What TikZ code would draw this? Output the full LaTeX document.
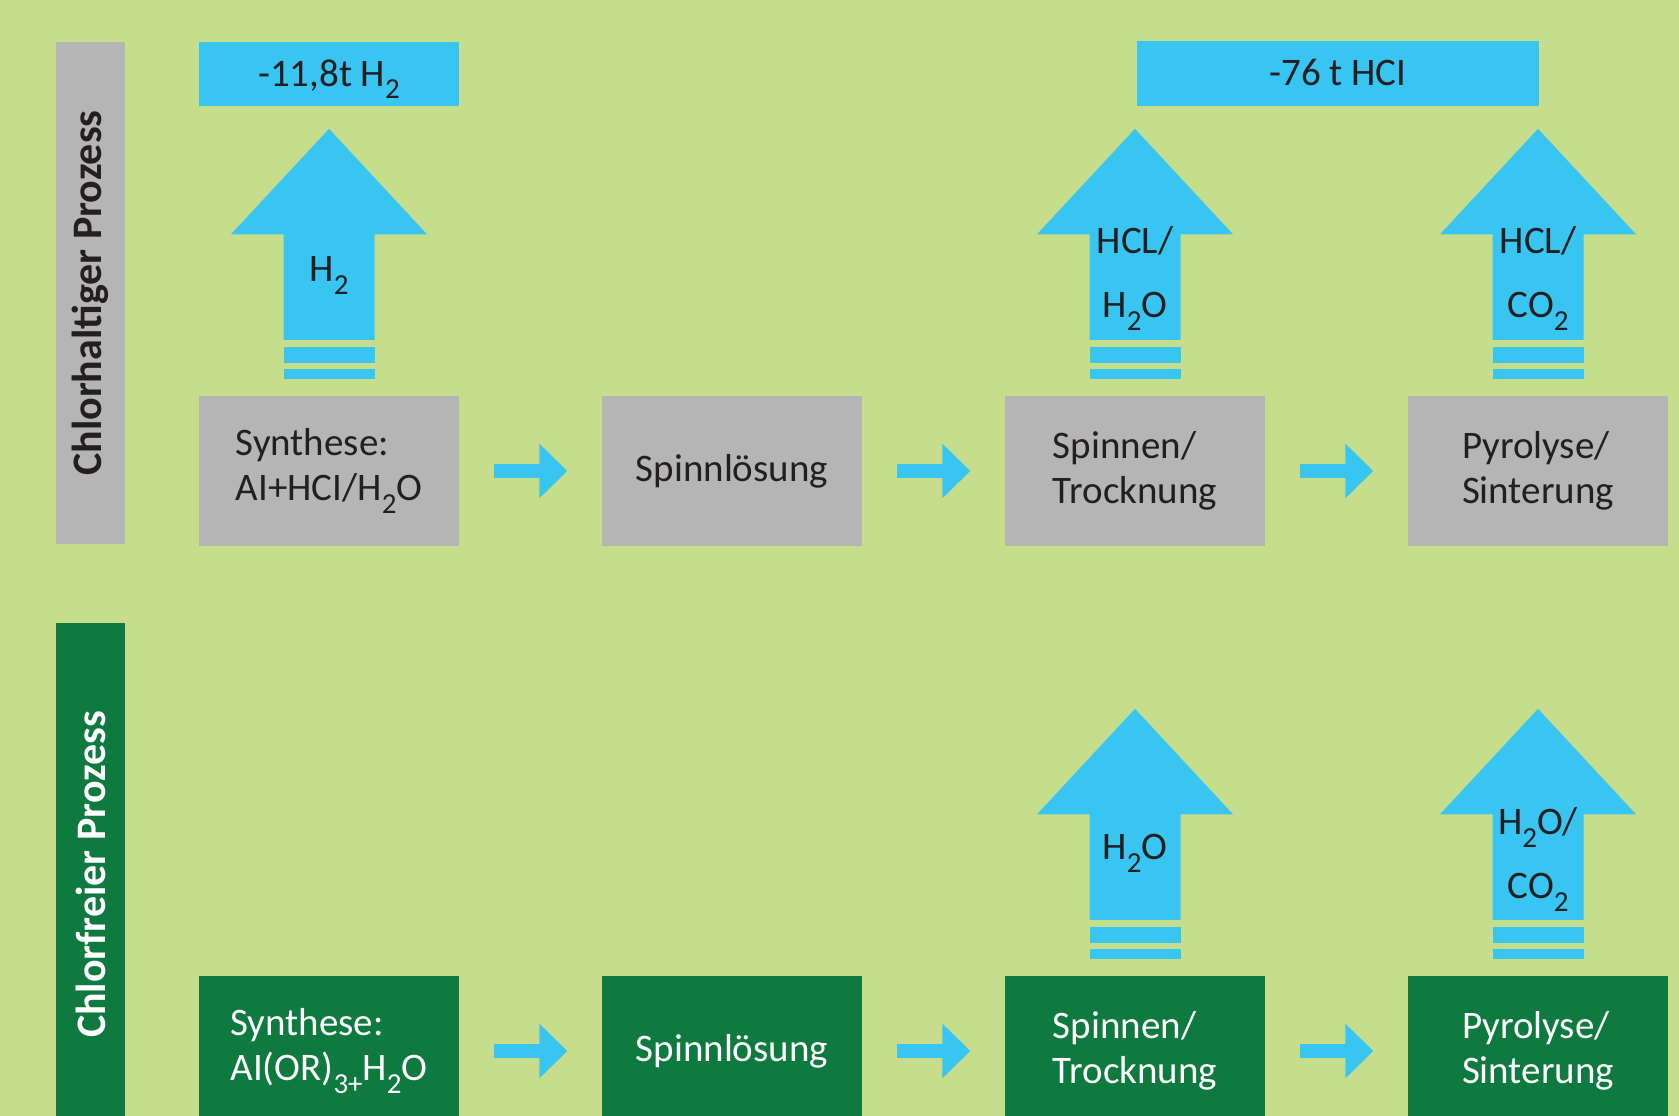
\documentclass[tikz,border=0pt]{standalone}
\usepackage{fontspec}
\setmainfont{Carlito}
\usepackage{tikz}
\usetikzlibrary{arrows.meta}

\definecolor{bggreen}{RGB}{198,222,139}
\definecolor{boxgrey}{RGB}{181,181,181}
\definecolor{gasblue}{RGB}{56,197,242}
\definecolor{darkgreen}{RGB}{15,122,63}
\definecolor{inkgrey}{RGB}{35,31,32}

% lowered index for formulas
\newcommand{\sbs}[1]{\raisebox{-13pt}{\fontsize{29}{29}\selectfont #1}}

\tikzset{
  gas arrow/.pic={
    \fill[gasblue] (-45.5,-56) -- (-45.5,-161.5) -- (-98,-161.5) -- (0,-267)
      -- (98,-161.5) -- (45.5,-161.5) -- (45.5,-56) -- cycle;
    \fill[gasblue] (-45.5,-33) rectangle (45.5,-48.5);
    \fill[gasblue] (-45.5,-16.5) rectangle (45.5,-26.5);
  }
}

\begin{document}
\begin{tikzpicture}[x=1pt,y=-1pt]
    \tikzstyle{stage}=[rectangle,inner sep=0pt,minimum width=260pt,minimum height=150pt,align=left,font=\fontsize{39}{45}\selectfont];
    \tikzstyle{chl stage}=[stage,fill=boxgrey,text=inkgrey];
    \tikzstyle{free stage}=[stage,fill=darkgreen,text=white];
    \tikzstyle{band}=[rectangle,rotate=90,inner sep=0pt,minimum width=502pt,minimum height=69pt,font=\bfseries\fontsize{42}{42}\selectfont];
    \tikzstyle{loss}=[rectangle,fill=gasblue,text=inkgrey,inner sep=0pt,minimum height=64pt,text height=26pt,text depth=2pt,font=\fontsize{39}{45}\selectfont];
    \tikzstyle{gas}=[inner sep=0pt,align=center,text=inkgrey,font=\fontsize{39}{64}\selectfont];
    \tikzstyle{flow}=[draw=gasblue,line width=14pt,-{Triangle[length=28pt,width=53pt]},shorten <=34.5pt,shorten >=34.5pt];

    % Background
    \useasboundingbox (0,0) rectangle (1679,1116);
    \clip (0,0) rectangle (1679,1116);
    \fill[bggreen] (0,0) rectangle (1679,1116);

    % Draw the two process bands
    \node[band,fill=boxgrey,text=inkgrey] (band-1) at (90.5,293) {Chlorhaltiger Prozess};
    \node[band,fill=darkgreen,text=white,minimum width=503pt] (band-2) at (90.5,874.5) {Chlorfreier Prozess};

    % Draw the stages of the chlorine process
    \node[chl stage] (top-1) at (329,471) {Synthese:\\AI+HCI/H\sbs{2}O};
    \node[chl stage] (top-2) at (732,471) {Spinnlösung};
    \node[chl stage] (top-3) at (1135,471) {Spinnen/\\Trocknung};
    \node[chl stage] (top-4) at (1538,471) {Pyrolyse/\\Sinterung};

    % Draw the stages of the chlorine-free process
    \node[free stage] (bot-1) at (329,1051) {Synthese:\\AI(OR)\sbs{3+}H\sbs{2}O};
    \node[free stage] (bot-2) at (732,1051) {Spinnlösung};
    \node[free stage] (bot-3) at (1135,1051) {Spinnen/\\Trocknung};
    \node[free stage] (bot-4) at (1538,1051) {Pyrolyse/\\Sinterung};

    % Connect the stages of each process
    \foreach \source / \dest in {1/2,2/3,3/4}
    {
      \draw[flow] (top-\source) -- (top-\dest);
      \draw[flow] (bot-\source) -- (bot-\dest);
    }

    % Draw the gas arrows above the stages
    \foreach \name in {top-1,top-3,top-4,bot-3,bot-4}
    \pic at (\name.north) {gas arrow};

    \node[gas] (gas-1) at ([yshift=120pt]top-1.north) {H\sbs{2}};
    \node[gas] (gas-3) at ([yshift=117pt]top-3.north) {HCL/\\H\sbs{2}O};
    \node[gas] (gas-4) at ([yshift=117pt]top-4.north) {HCL/\\CO\sbs{2}};
    \node[gas] (gas-5) at ([yshift=122pt]bot-3.north) {H\sbs{2}O};
    \node[gas] (gas-6) at ([yshift=116pt]bot-4.north) {H\sbs{2}O/\\CO\sbs{2}};

    % Annotate the losses
    \node[loss,minimum width=260pt] (loss-1) at (329,74) {-11,8t H\sbs{2}};
    \node[loss,minimum width=402pt] (loss-2) at (1338,73.5) {-76 t HCI};
\end{tikzpicture}
\end{document}
